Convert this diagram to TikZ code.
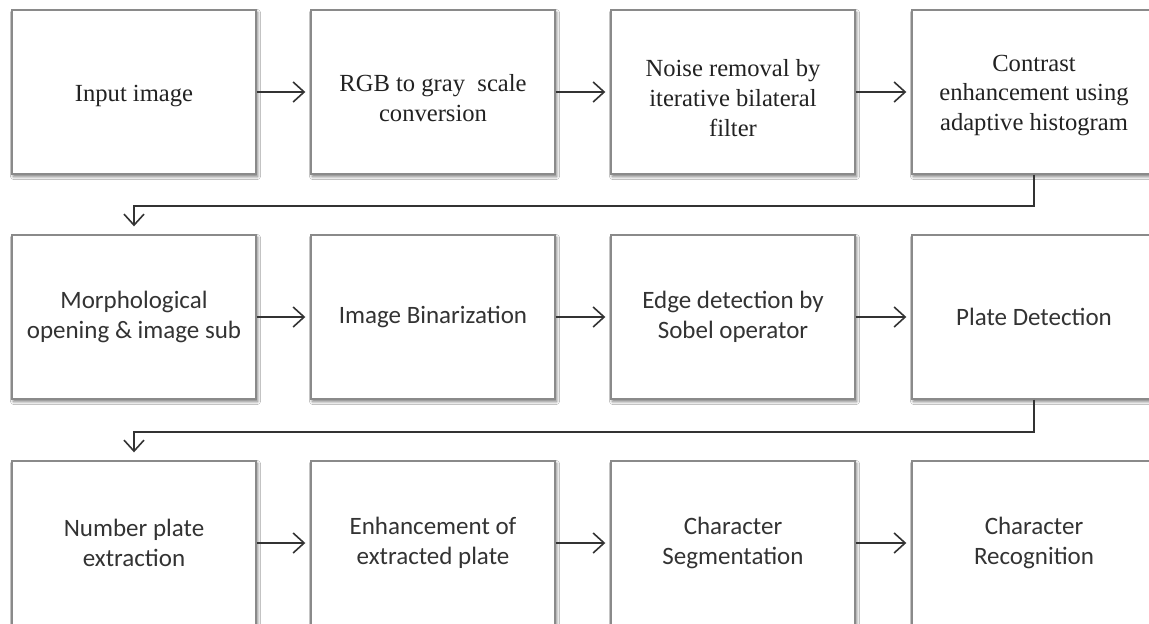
\documentclass[tikz,border=0pt]{standalone}
\usepackage{fontspec}
\setmainfont{Liberation Serif}
\newfontfamily\carlitofont{Carlito}
\usetikzlibrary{arrows.meta,shadows.blur}
\definecolor{boxline}{HTML}{8A8A8A}
\definecolor{txtA}{HTML}{222222}
\definecolor{txtB}{HTML}{333333}
\definecolor{arrcol}{HTML}{333333}
\tikzset{
  stepbox/.style={draw=boxline, line width=1.4pt, fill=white, minimum width=244pt, minimum height=164pt,
    inner sep=0pt, align=center,
    blur shadow={shadow xshift=1.5pt, shadow yshift=-2.5pt, shadow blur steps=6, shadow opacity=55, shadow blur radius=3pt}},
  serifbox/.style={stepbox, text=txtA, font=\fontsize{24.6}{29.5}\selectfont},
  sansbox/.style={stepbox, text=txtB, font=\carlitofont\fontsize{25}{30}\selectfont},
  arr/.style={draw=arrcol, line width=1.8pt, -{Straight Barb[length=11pt,width=20pt,line width=1.6pt]}},
  link/.style={draw=arrcol, line width=1.6pt, -{Straight Barb[length=11pt,width=20pt,line width=1.6pt]}}
}
\begin{document}
\begin{tikzpicture}[x=1pt,y=-1pt]
\useasboundingbox (0,0) rectangle (1149,624);
\clip (0,0) rectangle (1149,624);
\fill[white] (0,0) rectangle (1149,624);
% row 1
\node[serifbox] (b1) at (134,92) {\raisebox{-4pt}[\height][\depth]{Input image}};
\node[serifbox] (b2) at (433,92) {\raisebox{-9pt}[\height][\depth]{\begin{tabular}{@{}c@{}}RGB to gray\ \ scale\\[0.5pt] conversion\end{tabular}}};
\node[serifbox] (b3) at (733,92) {\raisebox{-9pt}[\height][\depth]{\begin{tabular}{@{}c@{}}Noise removal by\\[0.5pt] iterative bilateral\\[0.5pt] filter\end{tabular}}};
\node[serifbox] (b4) at (1034,92) {\raisebox{-3pt}[\height][\depth]{\begin{tabular}{@{}c@{}}Contrast\\ enhancement using\\ adaptive histogram\end{tabular}}};
% row 2
\node[sansbox] (b5) at (134,317) {Morphological\\ opening \& image sub};
\node[sansbox] (b6) at (433,317) {Image Binarization};
\node[sansbox] (b7) at (733,317) {Edge detection by\\ Sobel operator};
\node[sansbox] (b8) at (1034,317) {Plate Detection};
% row 3
\node[sansbox] (b9) at (134,543) {Number plate\\ extraction};
\node[sansbox] (b10) at (433,543) {Enhancement of\\ extracted plate};
\node[sansbox] (b11) at (733,543) {Character\\ Segmentation};
\node[sansbox] (b12) at (1034,543) {Character\\ Recognition};
% horizontal arrows
\draw[arr] (b1.east) -- ([xshift=-5pt]b2.west);
\draw[arr] (b2.east) -- ([xshift=-5pt]b3.west);
\draw[arr] (b3.east) -- ([xshift=-5pt]b4.west);
\draw[arr] (b5.east) -- ([xshift=-5pt]b6.west);
\draw[arr] (b6.east) -- ([xshift=-5pt]b7.west);
\draw[arr] (b7.east) -- ([xshift=-5pt]b8.west);
\draw[arr] (b9.east) -- ([xshift=-5pt]b10.west);
\draw[arr] (b10.east) -- ([xshift=-5pt]b11.west);
\draw[arr] (b11.east) -- ([xshift=-5pt]b12.west);
% row links
\draw[link] (b4.south) -- ++(0,31) -| ([yshift=8pt]b5.north);
\draw[link] (b8.south) -- ++(0,32) -| ([yshift=8pt]b9.north);
\end{tikzpicture}
\end{document}
